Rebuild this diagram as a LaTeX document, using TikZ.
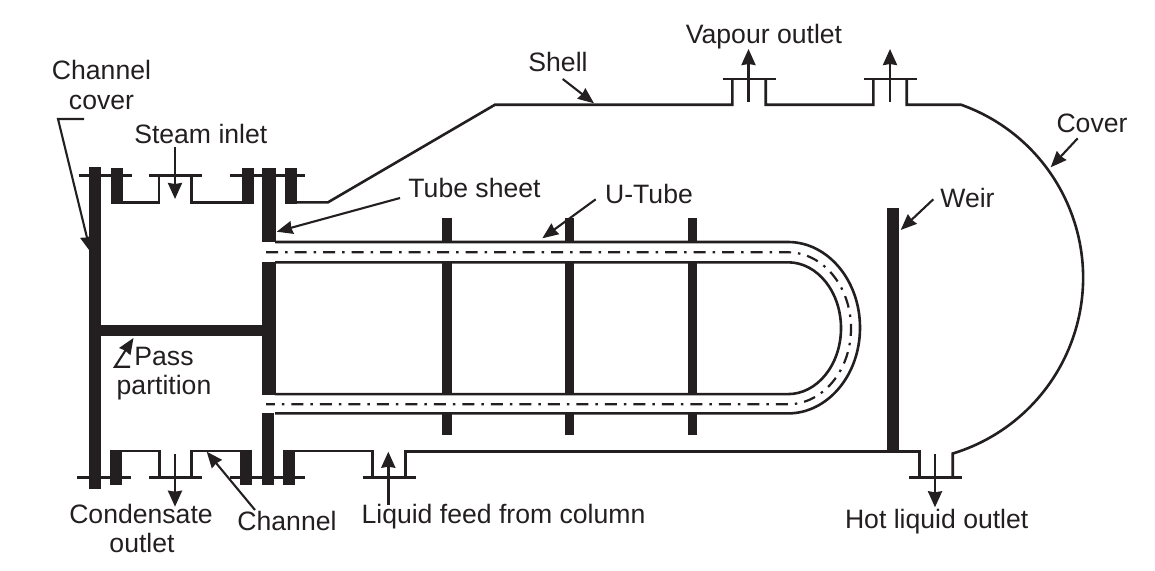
\documentclass[tikz,border=0pt]{standalone}
\usepackage{fontspec}
\setmainfont{Liberation Sans}
\usetikzlibrary{arrows.meta}
\definecolor{inkblack}{HTML}{231F20}
\tikzset{
  /pixels/.style={x=1pt,y=-1pt},
  wall/.style={draw=inkblack,line width=2.6pt,line join=miter},
  plate/.style={fill=inkblack},
  centreline/.style={draw=inkblack,line width=2.2pt,dash pattern=on 12pt off 7pt on 2.5pt off 7pt},
  flow/.style={draw=inkblack,line width=2.6pt,-{Stealth[length=16pt,width=14pt,inset=1pt]}},
  leader/.style={draw=inkblack,line width=2.1pt,-{Stealth[length=16pt,width=13pt,inset=1pt]}},
  lbl/.style={anchor=base,inner sep=0pt,text=inkblack,font=\fontsize{26.6}{30}\selectfont},
}
% flange bar across a nozzle: centre, half width, height
\newcommand{\flange}[3]{\draw[wall] (#1-#2,#3) -- (#1+#2,#3);}
\begin{document}
\begin{tikzpicture}[/pixels]
    \useasboundingbox (0,0) rectangle (1155,570);

    % plates
    \fill[plate] (88.7,167) rectangle (100.7,489);
    \fill[plate] (100,325) rectangle (263,336);
    \fill[plate] (262.3,168) rectangle (275.5,241.7);
    \fill[plate] (262.3,262.3) rectangle (275.5,395);
    \fill[plate] (262.3,413.3) rectangle (273.5,485);
    \foreach \x in {110.7,241.5,284.5} {
      \fill[plate] (\x,168) rectangle (\x+12.6,203.5);
    }
    \foreach \x in {110,240,283.3} {
      \fill[plate] (\x,450) rectangle (\x+11.8,485);
    }
    \fill[plate] (887.3,208) rectangle (899.3,452);

    % baffles
    \foreach \x in {442.3,565,687.5} {
      \fill[plate] (\x,218) rectangle (\x+9.4,242);
      \fill[plate] (\x,262) rectangle (\x+9.4,394);
      \fill[plate] (\x,413) rectangle (\x+9.4,435);
    }

    % channel
    \draw[wall] (123,202.3) -- (159,202.3) -- (159,176);
    \draw[wall] (191.7,176) -- (191.7,202.3) -- (242,202.3);
    \draw[wall] (121,451) -- (159.3,451) -- (159.3,477.7);
    \draw[wall] (191.7,477.7) -- (191.7,451) -- (241,451);

    % shell and cover
    \draw[wall] (297,202.3) -- (328,202.3) -- (495,104.7) -- (732.3,104.7) -- (732.3,79)
      (765.7,79) -- (765.7,104.7) -- (873.3,104.7) -- (873.3,79)
      (906.7,79) -- (906.7,104.7) -- (961,104.7)
      arc[start angle=-70.4,end angle=73.1,radius=183.7] -- (952.7,477.5);
    \draw[wall] (295,451) -- (372.3,451) -- (372.3,477.7)
      (405.7,477.7) -- (405.7,451.7) -- (919.3,451.7) -- (919.3,477.5);

    % flanges
    \flange{105}{26.5}{175.7}
    \flange{175.4}{26.4}{175.7}
    \flange{267.5}{37.5}{175.7}
    \flange{104}{26.7}{477.7}
    \flange{175.4}{26.4}{477.7}
    \flange{267.5}{37.5}{477.7}
    \flange{389.2}{26.5}{477.7}
    \flange{749.2}{26.5}{79}
    \flange{890.3}{26.4}{79}
    \flange{935.8}{26.5}{477.5}

    % U-tube
    \draw[wall] (275,242) -- (788,242) arc[start angle=-90,end angle=90,x radius=72,y radius=85.7] -- (275,413.4);
    \draw[wall] (275,262.3) -- (788,262.3) arc[start angle=-90,end angle=90,x radius=53,y radius=65.9] -- (275,394.1);
    \draw[centreline] (266,252.3) -- (788,252.3) arc[start angle=-90,end angle=90,x radius=63,y radius=76] -- (266,404.3);

    % labels
    \node[lbl] (channelcover) at (101.5,79) {Channel};
    \node[lbl] (channelcovertwo) at (101.5,109) {cover};
    \node[lbl] (steaminlet) at (200.8,143) {Steam inlet};
    \node[lbl] (pass) at (164,365) {Pass};
    \node[lbl] (partition) at (164,394) {partition};
    \node[lbl] (shell) at (558,71) {Shell};
    \node[lbl] (vapour) at (764,43) {Vapour outlet};
    \node[lbl] (tubesheet) at (474.5,197) {Tube sheet};
    \node[lbl] (utube) at (649,203) {U-Tube};
    \node[lbl] (weir) at (967.5,207) {Weir};
    \node[lbl] (cover) at (1092,132) {Cover};
    \node[lbl] (condensate) at (141,523) {Condensate};
    \node[lbl] (outlet) at (142,552) {outlet};
    \node[lbl] (channel) at (287,530) {Channel};
    \node[lbl] (liquidfeed) at (503.5,523) {Liquid feed from column};
    \node[lbl] (hotliquid) at (936.7,528) {Hot liquid outlet};

    % leader ends
    \coordinate (ccA) at (84,119);
    \coordinate (ccB) at (58,119);
    \coordinate (ccC) at (90.5,252);
    \coordinate (ppA) at (130,366.7);
    \coordinate (ppB) at (115,366.7);
    \coordinate (ppC) at (133.5,338);
    \coordinate (shA) at (562.7,79);
    \coordinate (shB) at (594,103.3);
    \coordinate (tsA) at (400,198);
    \coordinate (tsB) at (276.7,231.7);
    \coordinate (utA) at (595.7,199.3);
    \coordinate (utB) at (542.3,238.3);
    \coordinate (weA) at (933.3,199.3);
    \coordinate (weB) at (900.7,230);
    \coordinate (coA) at (1077.7,138.3);
    \coordinate (coB) at (1050.7,167.3);
    \coordinate (chA) at (255,510);
    \coordinate (chB) at (206.7,451.7);

    \draw[leader] (ccA) -- (ccB) -- (ccC);
    \draw[leader] (ppA) -- (ppB) -- (ppC);
    \draw[leader] (shA) -- (shB);
    \draw[leader] (tsA) -- (tsB);
    \draw[leader] (utA) -- (utB);
    \draw[leader] (weA) -- (weB);
    \draw[leader] (coA) -- (coB);
    \draw[leader] (chA) -- (chB);

    % flow arrows
    \coordinate (siA) at (175,147);
    \coordinate (siB) at (175,199);
    \coordinate (coutA) at (175,454);
    \coordinate (coutB) at (175,506.7);
    \coordinate (lfA) at (388.3,505);
    \coordinate (lfB) at (388.3,451.7);
    \coordinate (hlA) at (935,454);
    \coordinate (hlB) at (935,507.3);
    \coordinate (voA) at (748.5,102);
    \coordinate (voB) at (748.5,49);
    \coordinate (vtA) at (890,102);
    \coordinate (vtB) at (890,49);

    \foreach \a/\b in {siA/siB,coutA/coutB,lfA/lfB,hlA/hlB,voA/voB,vtA/vtB} {
      \draw[flow] (\a) -- (\b);
    }
\end{tikzpicture}
\end{document}
